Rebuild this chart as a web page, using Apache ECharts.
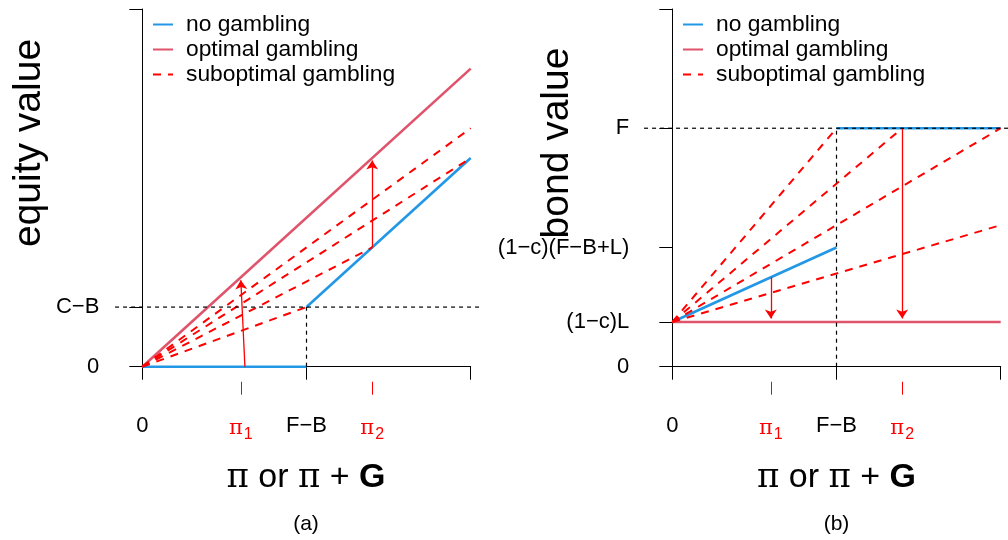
<!DOCTYPE html>
<html>
<head>
<meta charset="utf-8">
<script src="https://cdn.jsdelivr.net/npm/echarts@6/dist/echarts.min.js"></script>
<style>
  html, body { margin: 0; padding: 0; background: #fff; }
  #chart { width: 1008px; height: 540px; }
</style>
</head>
<body>
<div id="chart"></div>
<script>
// x ticks (same on both panels)
const xTickValues = [0, 1, 2]
const xTickLabels = ['0', 'F−B', '']
const piTickValues = [0.6, 1.4]
const piTickLabels = ['1', '2']

// (a) equity value
const equityTickValues = [0, 1, 6]
const equityLabelValues = [0, 1]
const equityLabels = ['0', 'C−B']
const noGambEquityLow = [[0, 0], [1, 0]]
const noGambEquityHigh = [[1, 1], [2, 3.5]]
const optimalEquity = [[0, 0], [2, 5]]
const subEquity = [
  [[0, 0], [1, 1]],
  [[0, 0], [1.4, 2]],
  [[0, 0], [2, 3.5]],
  [[0, 0], [2, 4]]
]
const guideEquityH = [[-0.166, 1], [2.075, 1]]
const guideEquityV = [[1, 0], [1, 1]]
const arrowsEquity = [
  [[0.625, 0], [0.6, 1.45]],
  [[1.4, 2], [1.4, 3.46]]
]

// (b) bond value
const bondTickValues = [0, 0.75, 2, 4, 6]
const bondLabelValues = [0, 0.75, 2, 4]
const bondLabels = ['0', '(1−c)L', '(1−c)(F−B+L)', 'F']
const noGambBondLow = [[0, 0.75], [1, 2]]
const noGambBondHigh = [[1, 4], [2, 4]]
const optimalBond = [[0, 0.75], [2, 0.75]]
const subBond = [
  [[0, 0.75], [1, 4]],
  [[0, 0.75], [1.4, 4]],
  [[0, 0.75], [2, 4]],
  [[0, 0.75], [2, 2.375]]
]
const guideBondH = [[-0.172, 4], [2.045, 4]]
const guideBondV = [[1, 0], [1, 4]]
const arrowsBond = [
  [[0.6, 1.5], [0.6, 0.81]],
  [[1.4, 4], [1.4, 0.81]]
]

const FONT = '"Liberation Sans", Arial, Helvetica, sans-serif'
const BLUE = '#2297E6'
const PINK = '#DF536B'
const RED = '#FF0000'
const names = ['no gambling', 'optimal gambling', 'suboptimal gambling']
const PX_PER_X = 164.2 // 横轴每单位的像素

const chart = echarts.init(document.getElementById('chart'), null, { renderer: 'canvas' })

// 两个面板共用的坐标轴设置
function makeXAxes (gridIndex) {
  return [
    {
      gridIndex,
      type: 'value',
      min: 0,
      max: 2,
      position: 'bottom',
      offset: 15,
      splitLine: { show: false },
      axisLine: { show: true, lineStyle: { color: '#000', width: 1 } },
      axisTick: { show: true, length: 13, customValues: xTickValues, lineStyle: { color: '#000', width: 1 } },
      axisLabel: {
        customValues: xTickValues,
        margin: 33,
        color: '#000',
        fontFamily: FONT,
        fontSize: 22,
        formatter: v => xTickLabels[xTickValues.indexOf(v)]
      }
    },
    {
      gridIndex,
      type: 'value',
      min: 0,
      max: 2,
      position: 'bottom',
      offset: 15,
      splitLine: { show: false },
      axisLine: { show: false },
      axisTick: { show: true, length: 13, customValues: piTickValues, lineStyle: { color: RED, width: 1 } },
      axisLabel: {
        customValues: piTickValues,
        margin: 33,
        formatter: v => '{p|π}{s|' + piTickLabels[piTickValues.indexOf(v)] + '}',
        rich: {
          p: { color: RED, fontFamily: '"DejaVu Serif", serif', fontSize: 21 },
          s: { color: RED, fontFamily: FONT, fontSize: 16, padding: [12, 0, 0, 1] }
        }
      }
    }
  ]
}

function makeYAxis (gridIndex, ticks, labelVals, labels) {
  return {
    gridIndex,
    type: 'value',
    min: 0,
    max: 6,
    position: 'left',
    offset: 14,
    splitLine: { show: false },
    axisLine: { show: true, lineStyle: { color: '#000', width: 1 } },
    axisTick: { show: true, length: 13, customValues: ticks, lineStyle: { color: '#000', width: 1 } },
    axisLabel: {
      customValues: labelVals,
      margin: 29,
      color: '#000',
      fontFamily: FONT,
      fontSize: 22,
      formatter: v => labels[labelVals.indexOf(v)]
    }
  }
}

function lineSeries (xi, yi, name, data, color, width, dash, z) {
  return {
    name,
    type: 'line',
    xAxisIndex: xi,
    yAxisIndex: yi,
    data,
    symbol: 'none',
    silent: true,
    z: z || 2,
    itemStyle: { color, opacity: 0 },
    lineStyle: { color, width, type: dash || 'solid' }
  }
}

function arrowSeries (gi, arrows) {
  return {
    type: 'lines',
    coordinateSystem: 'cartesian2d',
    xAxisIndex: gi * 2,
    yAxisIndex: gi,
    symbol: ['none', 'arrow'],
    symbolSize: [5, 9],
    silent: true,
    z: 4,
    lineStyle: { color: RED, width: 1.3, opacity: 1, curveness: 0 },
    data: arrows.map(a => ({ coords: a }))
  }
}

function panelSeries (gi, low, high, optimal, subs, gH, gV, arrows) {
  const xi = gi * 2
  const s = []
  s.push(lineSeries(xi, gi, names[0], low, BLUE, 2.6))
  s.push(lineSeries(xi, gi, names[0], high, BLUE, 2.6))
  s.push(lineSeries(xi, gi, names[1], optimal, PINK, 2.6))
  subs.forEach(d => s.push(lineSeries(xi, gi, names[2], d, RED, 2, [8, 7], 3)))
  // 水平虚线画在更宽的辅助坐标系里
  s.push(lineSeries(4 + gi, 2 + gi, 'guide', gH, '#000', 1.2, [4, 4], 5))
  s.push(lineSeries(xi, gi, 'guide', gV, '#000', 1.2, [4, 4], 5))
  s.push(arrowSeries(gi, arrows))
  return s
}

// 辅助坐标系: 与主面板同比例, 只是横向范围更宽
function guideGrid (left0, h) {
  const x0 = h[0][0]
  const x1 = h[1][0]
  return { left: left0 + x0 * PX_PER_X, top: 9, width: (x1 - x0) * PX_PER_X, height: 357.7, outerBoundsMode: 'none' }
}
function guideX (gi, h) {
  return { gridIndex: gi, type: 'value', min: h[0][0], max: h[1][0], show: false }
}
function guideY (gi) {
  return { gridIndex: gi, type: 'value', min: 0, max: 6, show: false }
}

function makeLegend (left) {
  return {
    data: names,
    orient: 'vertical',
    left,
    top: 7,
    itemWidth: 20,
    itemHeight: 14,
    itemGap: 0,
    selectedMode: false,
    textStyle: { fontFamily: FONT, fontSize: 22.8, color: '#000', lineHeight: 25, padding: [0, 0, 0, 8] }
  }
}

// 轴标题及 (a)(b) 文本
function titleTexts (cx, yTitle, yTitleX, tag) {
  return [
    {
      type: 'text',
      x: yTitleX,
      y: 143,
      rotation: Math.PI / 2,
      style: { text: yTitle, fontFamily: FONT, fontSize: 39, fill: '#000', align: 'center', verticalAlign: 'middle' }
    },
    {
      type: 'text',
      x: cx,
      y: 478,
      style: {
        text: '{p|π}{t| or }{p|π}{t| + }{b|G}',
        align: 'center',
        verticalAlign: 'middle',
        rich: {
          p: { fontFamily: '"DejaVu Serif", serif', fontSize: 34, fill: '#000' },
          t: { fontFamily: FONT, fontSize: 34, fill: '#000' },
          b: { fontFamily: FONT, fontSize: 34, fontWeight: 'bold', fill: '#000' }
        }
      }
    },
    {
      type: 'text',
      x: cx,
      y: 524,
      style: { text: tag, fontFamily: FONT, fontSize: 21, fill: '#000', align: 'center', verticalAlign: 'middle' }
    }
  ]
}

const option = {
  animation: false,
  backgroundColor: '#fff',
  grid: [
    { left: 142.3, top: 9, width: 328.4, height: 357.7, outerBoundsMode: 'none' },
    { left: 672.3, top: 9, width: 328.4, height: 357.7, outerBoundsMode: 'none' },
    guideGrid(142.3, guideEquityH),
    guideGrid(672.3, guideBondH)
  ],
  xAxis: [...makeXAxes(0), ...makeXAxes(1), guideX(2, guideEquityH), guideX(3, guideBondH)],
  yAxis: [
    makeYAxis(0, equityTickValues, equityLabelValues, equityLabels),
    makeYAxis(1, bondTickValues, bondLabelValues, bondLabels),
    guideY(2),
    guideY(3)
  ],
  legend: [makeLegend(147), makeLegend(677)],
  series: [
    ...panelSeries(0, noGambEquityLow, noGambEquityHigh, optimalEquity, subEquity, guideEquityH, guideEquityV, arrowsEquity),
    ...panelSeries(1, noGambBondLow, noGambBondHigh, optimalBond, subBond, guideBondH, guideBondV, arrowsBond)
  ],
  graphic: [
    ...titleTexts(306, 'equity value', 29, '(a)'),
    ...titleTexts(836.5, 'bond value', 557, '(b)')
  ]
}

chart.setOption(option)
</script>
</body>
</html>
